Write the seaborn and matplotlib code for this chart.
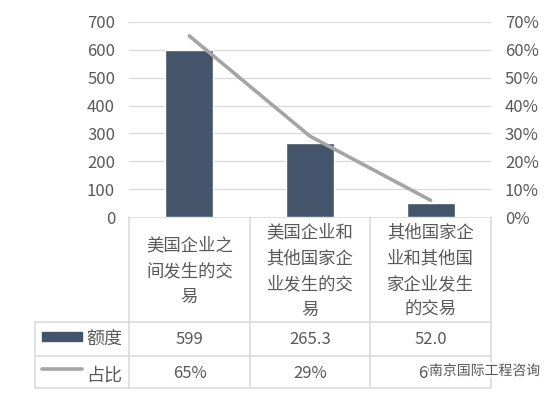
import numpy as np
import pandas as pd
import seaborn as sns
import matplotlib.pyplot as plt
import matplotlib.patheffects as pe
from matplotlib.lines import Line2D
from matplotlib.patches import Rectangle

# data
categories = ["美国企业之\n间发生的交\n易", "美国企业和\n其他国家企\n业发生的交\n易", "其他国家企\n业和其他国\n家企业发生\n的交易"]
amounts = [599, 265.3, 52.0]
amount_labels = ["599", "265.3", "52.0"]
shares = [0.65, 0.29, 0.06]
left_ticks = [0, 100, 200, 300, 400, 500, 600, 700]
right_ticks = [0, 0.1, 0.2, 0.3, 0.4, 0.5, 0.6, 0.7]
series_names = ["额度", "占比"]

bar_color = "#44546a"
line_color = "#a5a5a5"
grid_color = "#d9d9d9"
text_color = "#595959"

sns.set_theme(style="white")
plt.rcParams['font.family'] = ['Noto Sans CJK SC', 'DejaVu Sans']

W, H = 548, 400
fig = plt.figure(figsize=(W / 100, H / 100), dpi=100)

# plot area in pixel coords
x0, x1, ytop, ybot = 129, 491, 22, 217
ax = fig.add_axes([x0 / W, 1 - ybot / H, (x1 - x0) / W, (ybot - ytop) / H])

df = pd.DataFrame({"cat": [str(i) for i in range(len(amounts))], "amount": amounts})
sns.barplot(data=df, x="cat", y="amount", color=bar_color, saturation=1, width=0.4, ax=ax, zorder=2)
ax.set_ylim(0, 700)
ax.set_xlim(-0.5, len(amounts) - 0.5)
ax.set_yticks(left_ticks)
ax.set_yticklabels([str(t) for t in left_ticks])
ax.set_xticks([])
ax.set_xlabel("")
ax.set_ylabel("")
for t in left_ticks[1:]:
    ax.axhline(t, color=grid_color, lw=0.9, zorder=0)
for s in ax.spines.values():
    s.set_visible(False)
ax.tick_params(axis="y", length=0, pad=10, labelsize=12, labelcolor=text_color)

ax2 = ax.twinx()
sns.lineplot(x=np.arange(len(shares)), y=shares, ax=ax2, color=line_color, lw=2.6, zorder=3)
ax2.set_ylim(0, 0.7)
ax2.set_yticks(right_ticks)
ax2.set_yticklabels([f"{t:.0%}" for t in right_ticks])
for s in ax2.spines.values():
    s.set_visible(False)
ax2.tick_params(axis="y", length=0, pad=10, labelsize=12, labelcolor=text_color)

# data table below the plot, drawn in pixel coords
tab = fig.add_axes([0, 0, 1, 1], zorder=-1)
tab.set_xlim(0, W)
tab.set_ylim(H, 0)
tab.axis("off")
cols = [x0, 250, 370, x1]
rows = [ybot, 322, 356, 388]
lkw = dict(color=grid_color, lw=1.1)
tab.add_line(Line2D([x0, x1], [ybot, ybot], **lkw))
for y in rows[1:]:
    tab.add_line(Line2D([35, x1], [y, y], **lkw))
for x in cols:
    tab.add_line(Line2D([x, x], [ybot, rows[-1]], **lkw))
tab.add_line(Line2D([35, 35], [rows[1], rows[-1]], **lkw))

centers = [(cols[i] + cols[i + 1]) / 2 for i in range(3)]
for cx, lab in zip(centers, categories):
    tab.text(cx, 271, lab, ha="center", va="center", multialignment="center",
             fontsize=12.5, color=text_color, linespacing=1.55)
for cx, lab in zip(centers, amount_labels):
    tab.text(cx, 340, lab, ha="center", va="center", fontsize=12, color=text_color)
for cx, v in zip(centers, shares):
    tab.text(cx, 373, f"{v:.0%}", ha="center", va="center", fontsize=12, color=text_color)

# legend keys
tab.add_patch(Rectangle((42, 332), 40, 9, color=bar_color))
tab.text(86, 339, series_names[0], ha="left", va="center", fontsize=13, color=text_color)
tab.add_line(Line2D([42, 82], [369, 369], color=line_color, lw=2.6))
tab.text(86, 376, series_names[1], ha="left", va="center", fontsize=13, color=text_color)

# watermark
fig.text(429 / W, 1 - 371 / H, "南京国际工程咨询", ha="left", va="center", fontsize=10,
         color="#555555", zorder=10,
         path_effects=[pe.withStroke(linewidth=3, foreground="white")])

fig.savefig("out.png", dpi=100)
